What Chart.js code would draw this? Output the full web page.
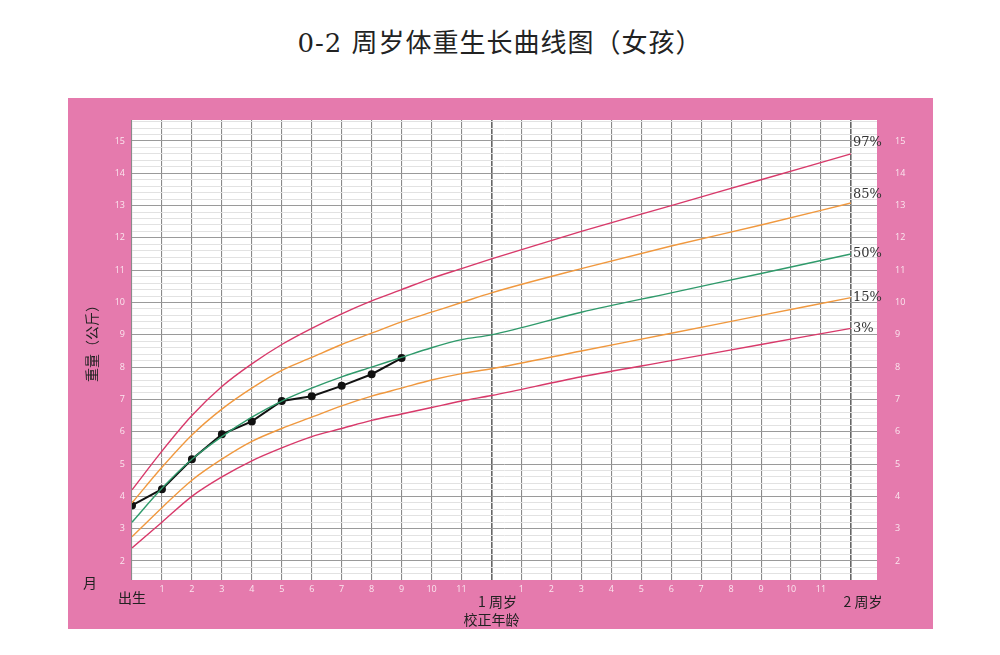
<!DOCTYPE html>
<html><head><meta charset="utf-8">
<script src="https://cdn.jsdelivr.net/npm/chart.js@4"></script>
<style>body{margin:0;background:#fff}#w{position:relative;width:1000px;height:655px}
h1{position:absolute;top:22px;left:0;width:1000px;text-align:center;margin:0;font:400 26px "DejaVu Serif","Noto Sans CJK SC";color:#222;letter-spacing:1px}
canvas{position:absolute;left:0;top:0}</style></head>
<body><div id="w"><h1>0-2 周岁体重生长曲线图（女孩）</h1><canvas id="c" width="1000" height="655"></canvas></div>
<script>
const months=[0,1,2,3,4,5,6,7,8,9,10,11,12,15,18,21,24];
const p97=[4.2,5.4,6.5,7.4,8.1,8.7,9.2,9.65,10.05,10.4,10.75,11.05,11.35,12.2,13.0,13.8,14.6];
const p85=[3.8,4.9,5.9,6.7,7.35,7.9,8.3,8.7,9.05,9.4,9.7,10.0,10.3,11.05,11.75,12.4,13.08];
const p50=[3.2,4.25,5.15,5.85,6.45,6.95,7.35,7.7,8.0,8.3,8.6,8.85,9.0,9.7,10.3,10.9,11.5];
const p15=[2.75,3.65,4.5,5.15,5.7,6.1,6.45,6.8,7.1,7.35,7.6,7.8,7.95,8.5,9.05,9.6,10.15];
const p3=[2.4,3.2,4.0,4.6,5.1,5.5,5.85,6.1,6.35,6.55,6.75,6.95,7.12,7.7,8.2,8.7,9.2];
const childMonths=[0,1,2,3,4,5,6,7,8,9];
const childWeight=[3.72,4.22,5.15,5.92,6.32,6.95,7.1,7.42,7.78,8.28];
const pctLabels=['97%','85%','50%','15%','3%'];
const yLabels=[2,3,4,5,6,7,8,9,10,11,12,13,14,15];
const pts=a=>a.map((v,i)=>({x:months[i],y:v}));
const RED='#d8396a',ORG='#f0983e',GRN='#2f9a6b';
const line=(d,c)=>({data:pts(d),borderColor:c,borderWidth:1.4,pointRadius:0,cubicInterpolationMode:'monotone',fill:false});
const ySteps=[];for(let i=0;i<=70;i++){ySteps.push({value:+(1.6+i*0.2).toFixed(1)});}
const deco={id:'deco',
beforeDraw(ch){const c=ch.ctx;c.save();c.fillStyle='#e57aad';c.fillRect(68,98,865,531);
const a=ch.chartArea;c.fillStyle='#fff';c.fillRect(a.left,a.top,a.right-a.left,a.bottom-a.top);c.restore();},
afterDraw(ch){const c=ch.ctx,x=ch.scales.x,y=ch.scales.y;c.save();
c.fillStyle='#333';c.font='13px "DejaVu Serif"';c.textAlign='left';c.textBaseline='middle';
const ends=[p97,p85,p50,p15,p3].map(a=>a[a.length-1]);const off=[-11,-8,0,0,0];
pctLabels.forEach((t,i)=>c.fillText(t,x.getPixelForValue(24)+2,y.getPixelForValue(ends[i])+off[i]));
c.fillStyle='#222';c.font='14px "Noto Sans CJK SC"';c.textAlign='center';
c.fillText('1 周岁',x.getPixelForValue(12)+6,602);c.fillText('2 周岁',x.getPixelForValue(24)+12,602);
c.fillText('校正年龄',x.getPixelForValue(12),620);c.fillText('出生',132,598);c.fillText('月',90,583);
c.translate(92,340);c.rotate(-Math.PI/2);c.fillText('重量（公斤）',0,0);c.restore();}};
new Chart(document.getElementById('c'),{type:'line',
data:{datasets:[line(p97,RED),line(p85,ORG),line(p50,GRN),line(p15,ORG),line(p3,RED),
{data:childMonths.map((m,i)=>({x:m,y:childWeight[i]})),borderColor:'#111',backgroundColor:'#111',borderWidth:2,pointRadius:3,tension:0}]},
options:{responsive:false,animation:false,layout:{padding:{top:120,left:0,right:0,bottom:0}},
plugins:{legend:{display:false},tooltip:{enabled:false}},
scales:{
x:{type:'linear',min:0,max:24.87,border:{display:false},
afterBuildTicks:s=>{s.ticks=[];for(let i=0;i<=24;i++)s.ticks.push({value:i});},
afterFit:s=>{s.height=75;},
grid:{color:ctx=>{const v=ctx.tick&&ctx.tick.value;return (v===12||v===24)?'#666':'#8a8a8a';},lineWidth:ctx=>{const v=ctx.tick&&ctx.tick.value;return (v===12||v===24)?1.6:1.1;},drawTicks:false},
ticks:{padding:4,color:'#fbe6ef',font:{size:9,family:'Open Sans'},maxRotation:0,autoSkip:false,callback:v=>(v===0||v===12||v===24)?'':String(v%12)}},
y:{type:'linear',min:1.41,max:15.65,position:'left',border:{display:false},
afterBuildTicks:s=>{s.ticks=ySteps.map(t=>({value:t.value})).filter(t=>t.value<=15.6);},
afterFit:s=>{s.width=132;},
grid:{color:ctx=>{const v=ctx.tick&&ctx.tick.value;return Math.abs(v-Math.round(v))<0.01?'#9a9a9a':'#e2e2e2';},lineWidth:1,drawTicks:false},
ticks:{padding:7,color:'#fbe6ef',font:{size:9,family:'Open Sans'},autoSkip:false,callback:v=>Math.abs(v-Math.round(v))<0.01?String(Math.round(v)):''}},
y2:{type:'linear',min:1.41,max:15.65,position:'right',border:{display:false},
afterBuildTicks:s=>{s.ticks=yLabels.map(v=>({value:v}));},
afterFit:s=>{s.width=123;},grid:{display:false},
ticks:{padding:10,color:'#fbe6ef',font:{size:9,family:'Open Sans'},autoSkip:false}}}},
plugins:[deco]});
</script></body></html>
